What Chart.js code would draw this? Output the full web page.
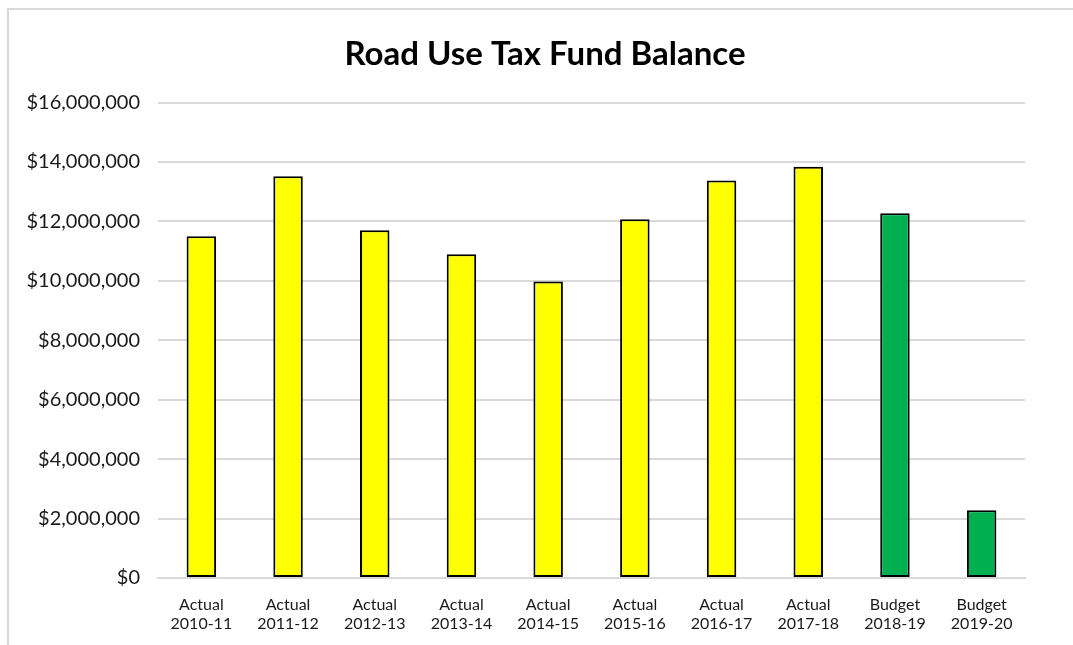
<!DOCTYPE html>
<html>
<head>
<meta charset="utf-8">
<script src="https://cdn.jsdelivr.net/npm/chart.js@4.4.1/dist/chart.umd.min.js"></script>
<style>
  html, body { margin: 0; padding: 0; background: #fff; overflow: hidden; width: 1073px; height: 645px; }
  #frame {
    position: absolute; left: 7px; top: 8px; width: 1100px; height: 700px;
    border-left: 2px solid #d9d9d9; border-top: 2px solid #d9d9d9;
  }
  #wrap { position: absolute; left: 0; top: 0; width: 1073px; height: 645px; }
</style>
</head>
<body>
<div id="frame"></div>
<div id="wrap"><canvas id="canvas1"></canvas></div>
<script>
// fund balance by fiscal year
const kinds = ['Actual', 'Actual', 'Actual', 'Actual', 'Actual', 'Actual', 'Actual', 'Actual', 'Budget', 'Budget'];
const years = ['2010-11', '2011-12', '2012-13', '2013-14', '2014-15', '2015-16', '2016-17', '2017-18', '2018-19', '2019-20'];
const balance = [11500000, 13520000, 11700000, 10900000, 9980000, 12070000, 13380000, 13840000, 12280000, 2280000];
const yTicks = [0, 2000000, 4000000, 6000000, 8000000, 10000000, 12000000, 14000000, 16000000];

const kindColor = { Actual: '#FFFF00', Budget: '#00B050' };

// nudge the title box so the heading sits a bit right of the canvas centre
const titleShift = {
    id: 'titleShift',
    afterLayout(chart) {
        const t = chart.titleBlock;
        t.left = 65;
        t.right = chart.chartArea.right;
        t.width = t.right - t.left;
    }
};

const ctx1 = document.getElementById('canvas1');

new Chart(ctx1, {
    type: 'bar',
    data: {
        labels: kinds.map((k, i) => [k, years[i]]),
        datasets: [{
            label: 'Fund Balance',
            data: balance,
            backgroundColor: kinds.map(k => kindColor[k]),
            borderColor: '#000000',
            borderWidth: 2,
            borderSkipped: false,
            barPercentage: 0.34,
            categoryPercentage: 1
        }]
    },
    plugins: [titleShift],
    options: {
        responsive: true,
        maintainAspectRatio: false,
        animation: false,
        layout: {
            padding: { left: 8, right: 48, top: 0, bottom: 0 }
        },
        plugins: {
            legend: { display: false },
            tooltip: { enabled: false },
            title: {
                display: true,
                text: 'Road Use Tax Fund Balance',
                color: '#000000',
                font: { family: 'Lato', size: 33, weight: 'bold' },
                padding: { top: 35, bottom: 28 }
            }
        },
        scales: {
            x: {
                grid: { display: false },
                border: { color: '#d9d9d9', width: 2 },
                ticks: {
                    color: '#1a1a1a',
                    font: { family: 'Lato', size: 16 },
                    padding: 9,
                    maxRotation: 0
                },
                afterFit: (axis) => { axis.height = 67; }
            },
            y: {
                min: 0,
                max: 16000000,
                afterBuildTicks: (axis) => { axis.ticks = yTicks.map(v => ({ value: v })); },
                grid: { color: '#d9d9d9', lineWidth: 2, drawTicks: false },
                border: { display: false },
                ticks: {
                    color: '#1a1a1a',
                    font: { family: 'Lato', size: 20 },
                    padding: 18,
                    callback: (v) => '$' + v.toLocaleString('en-US')
                },
                afterFit: (axis) => { axis.width = 150; }
            }
        }
    }
});
</script>
</body>
</html>
